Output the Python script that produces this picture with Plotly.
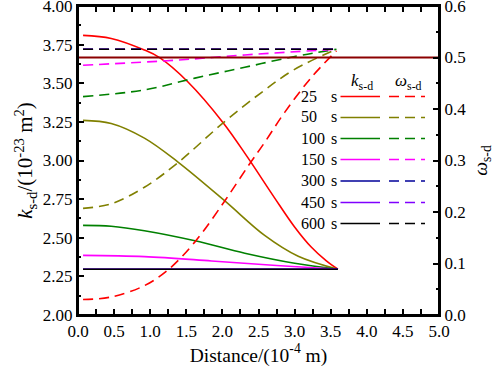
import plotly.graph_objects as go

# ---------------- data ----------------
times = ["25", "50", "100", "150", "300", "450", "600"]
colors = ["#FF0000", "#808000", "#008000", "#FF00FF", "#000099", "#8000FF", "#000000"]

# k_s-d (left axis, 1e-23 m^2)
k25_x = [0.07, 0.46, 0.92, 1.13, 1.52, 2.01, 2.35, 2.72, 3.00, 3.23, 3.44, 3.60]
k25_y = [3.810, 3.790, 3.715, 3.666, 3.510, 3.245, 3.020, 2.760, 2.570, 2.440, 2.350, 2.296]
k50_x = [0.07, 0.46, 0.92, 1.385, 2.03, 2.585, 3.05, 3.60]
k50_y = [3.260, 3.240, 3.145, 2.990, 2.740, 2.515, 2.380, 2.296]
k100_x = [0.07, 0.46, 0.92, 1.62, 2.31, 3.00, 3.60]
k100_y = [2.580, 2.574, 2.545, 2.480, 2.400, 2.335, 2.296]
k150_x = [0.07, 0.92, 1.85, 2.75, 3.60]
k150_y = [2.386, 2.378, 2.350, 2.320, 2.296]
k300_x = [0.07, 3.60]
k300_y = [2.296, 2.296]
k450_x = [0.07, 3.60]
k450_y = [2.296, 2.296]
k600_x = [0.07, 3.60]
k600_y = [2.296, 2.296]

# omega_s-d (right axis)
w25_x = [0.07, 0.46, 0.92, 1.25, 1.62, 2.03, 2.355, 2.585, 2.86, 3.23, 3.58]
w25_y = [0.030, 0.035, 0.057, 0.088, 0.142, 0.221, 0.289, 0.335, 0.393, 0.461, 0.513]
w50_x = [0.07, 0.46, 0.92, 1.385, 2.01, 2.54, 3.00, 3.58]
w50_y = [0.207, 0.216, 0.248, 0.296, 0.373, 0.432, 0.477, 0.516]
w100_x = [0.07, 0.92, 1.62, 2.31, 3.00, 3.58]
w100_y = [0.424, 0.437, 0.460, 0.481, 0.502, 0.516]
w150_x = [0.07, 1.385, 2.31, 3.58]
w150_y = [0.485, 0.495, 0.505, 0.516]
w300_x = [0.07, 3.58]
w300_y = [0.516, 0.516]
w450_x = [0.07, 3.58]
w450_y = [0.516, 0.516]
w600_x = [0.07, 3.58]
w600_y = [0.516, 0.516]

ref_x = [0.0, 5.0]
ref_omega = [0.5, 0.5]

k_series = [(k25_x, k25_y), (k50_x, k50_y), (k100_x, k100_y), (k150_x, k150_y),
            (k300_x, k300_y), (k450_x, k450_y), (k600_x, k600_y)]
w_series = [(w25_x, w25_y), (w50_x, w50_y), (w100_x, w100_y), (w150_x, w150_y),
            (w300_x, w300_y), (w450_x, w450_y), (w600_x, w600_y)]

FONT = "Liberation Serif"
DASH = "10px,6px"
TICKSIZE = 17

fig = go.Figure()

# reference line omega = 0.5 (on the top x axis, same range as the bottom one)
fig.add_trace(go.Scatter(x=ref_x, y=ref_omega, xaxis="x2", yaxis="y2", mode="lines",
                         line=dict(color="#8B0000", width=2.2), showlegend=False))

for (xs, ys), c in zip(w_series, colors):
    fig.add_trace(go.Scatter(x=xs, y=ys, yaxis="y2", mode="lines",
                             line=dict(color=c, width=1.6, dash=DASH, shape="spline", smoothing=1),
                             showlegend=False))
for (xs, ys), c in zip(k_series, colors):
    fig.add_trace(go.Scatter(x=xs, y=ys, mode="lines",
                             line=dict(color=c, width=1.6, shape="spline", smoothing=1),
                             showlegend=False))

# ---------------- custom legend (paper coords) ----------------
L, R, T, B = 78, 439, 6, 315
W, H = R - L, B - T
def px(xp):
    return (xp - L) / W
def py(yp):
    return (B - yp) / H

row_y = [96, 117, 138, 159, 180.5, 202, 223]
shapes = []
annotations = []
for t, c, yy in zip(times, colors, row_y):
    annotations.append(dict(x=px(299), y=py(yy), xref="paper", yref="paper", text=t,
                            showarrow=False, xanchor="left", yanchor="middle",
                            font=dict(family=FONT, size=16, color="black")))
    annotations.append(dict(x=px(329), y=py(yy), xref="paper", yref="paper", text="s",
                            showarrow=False, xanchor="left", yanchor="middle",
                            font=dict(family=FONT, size=16, color="black")))
    shapes.append(dict(type="line", xref="paper", yref="paper", x0=px(340.5), x1=px(380),
                       y0=py(yy + 0.5), y1=py(yy + 0.5), line=dict(color=c, width=1.6)))
    shapes.append(dict(type="line", xref="paper", yref="paper", x0=px(389), x1=px(425),
                       y0=py(yy + 0.5), y1=py(yy + 0.5), line=dict(color=c, width=1.6, dash=DASH)))

# frame box around the plot area
shapes.append(dict(type="rect", xref="paper", yref="paper", x0=0, x1=1, y0=0, y1=1,
                   line=dict(color="black", width=2), fillcolor="rgba(0,0,0,0)", layer="above"))

annotations.append(dict(x=px(362), y=py(82), xref="paper", yref="paper",
                        text="<i>k</i><sub>s-d</sub>", showarrow=False,
                        xanchor="center", yanchor="middle",
                        font=dict(family=FONT, size=17, color="black")))
annotations.append(dict(x=px(408), y=py(82), xref="paper", yref="paper",
                        text="<i>ω</i><sub>s-d</sub>", showarrow=False,
                        xanchor="center", yanchor="middle",
                        font=dict(family=FONT, size=17, color="black")))

axis_common = dict(showgrid=False, zeroline=False, showline=True, linecolor="black",
                   linewidth=2, ticks="inside", ticklen=6, tickwidth=1.5, tickcolor="black",
                   automargin=False, ticklabeloverflow="allow",
                   tickfont=dict(family=FONT, size=TICKSIZE, color="black"))

fig.update_layout(
    width=498, height=369,
    margin=dict(l=L, r=498 - R, t=T, b=369 - B),
    plot_bgcolor="white", paper_bgcolor="white",
    showlegend=False,
    font=dict(family=FONT, size=16, color="black"),
    xaxis=dict(range=[0, 5], dtick=0.5, tick0=0, tickformat=".1f", mirror="allticks",
               minor=dict(ticks="inside", ticklen=3, dtick=0.25, tickwidth=1.5, tickcolor="black"),
               title=dict(text="Distance/(10<sup>-4</sup> m)", standoff=6,
                          font=dict(family=FONT, size=19.5, color="black")),
               **axis_common),
    xaxis2=dict(range=[0, 5], dtick=0.5, tick0=0, overlaying="x", side="top",
                showticklabels=False,
                minor=dict(ticks="inside", ticklen=3, dtick=0.25, tickwidth=1.5, tickcolor="black"),
                **axis_common),
    yaxis=dict(range=[2, 4], dtick=0.25, tick0=2, tickformat=".2f", mirror=False,
               minor=dict(ticks="inside", ticklen=3, dtick=0.125, tickwidth=1.5, tickcolor="black"),
               title=dict(text="<i>k</i><sub>s-d</sub>/(10<sup>-23</sup> m<sup>2</sup>)", standoff=4,
                          font=dict(family=FONT, size=21, color="black")),
               **axis_common),
    yaxis2=dict(range=[0, 0.6], dtick=0.1, tick0=0, tickformat=".1f", overlaying="y", side="right",
                minor=dict(ticks="inside", ticklen=3, dtick=0.05, tickwidth=1.5, tickcolor="black"),
                title=dict(text="<i>ω</i><sub>s-d</sub>", standoff=8,
                           font=dict(family=FONT, size=19.5, color="black")),
                **axis_common),
    shapes=shapes,
    annotations=annotations,
)

fig.write_html("out.html", config={"displayModeBar": False},
               post_script="document.body.style.margin='0';document.body.style.padding='0';")
